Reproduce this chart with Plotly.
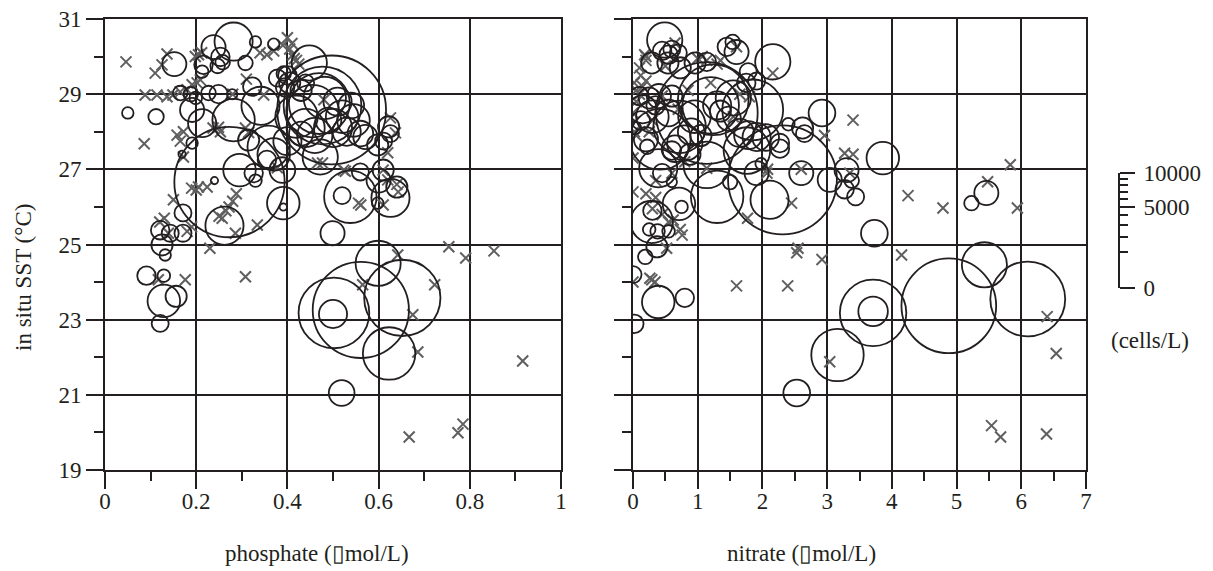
import math
import plotly.graph_objects as go

# circles: stations with cells present (phosphate panel)
phos_x = [0.050, 0.112, 0.152, 0.171, 0.121, 0.143, 0.125, 0.132, 0.171, 0.091,
          0.129, 0.129, 0.156, 0.121, 0.165, 0.188, 0.199, 0.191, 0.213, 0.191,
          0.169, 0.238, 0.282, 0.308, 0.330, 0.370, 0.216, 0.253, 0.258, 0.247,
          0.213, 0.227, 0.249, 0.279, 0.323, 0.282, 0.341, 0.315, 0.378, 0.392,
          0.273, 0.240, 0.262, 0.295, 0.326, 0.330, 0.359, 0.370, 0.355, 0.389,
          0.391, 0.391, 0.400, 0.497, 0.477, 0.470, 0.455, 0.482, 0.448, 0.400,
          0.420, 0.440, 0.460, 0.500, 0.520, 0.530, 0.545, 0.510, 0.490, 0.430,
          0.440, 0.472, 0.560, 0.571, 0.598, 0.611, 0.622, 0.626, 0.560, 0.610,
          0.600, 0.538, 0.520, 0.626, 0.640, 0.598, 0.499, 0.599, 0.502, 0.500,
          0.561, 0.652, 0.623, 0.519, 0.540, 0.430, 0.405, 0.395]
phos_sst = [28.50, 28.40, 29.80, 25.84, 25.38, 25.30, 24.99, 24.72, 25.30, 24.17,
            24.17, 23.50, 23.62, 22.90, 29.03, 29.00, 28.90, 28.58, 28.23, 27.70,
            27.40, 30.25, 30.40, 29.83, 30.39, 30.33, 29.78, 29.99, 29.85, 29.75,
            29.60, 29.03, 29.00, 29.00, 29.20, 28.31, 28.69, 27.78, 29.43, 29.55,
            26.66, 26.70, 25.50, 26.98, 26.90, 26.70, 27.60, 27.40, 27.25, 26.98,
            26.10, 26.00, 27.75, 28.58, 28.70, 28.75, 28.55, 28.90, 29.83, 29.50,
            28.40, 28.10, 27.90, 28.10, 28.40, 28.00, 28.30, 28.80, 28.30, 29.10,
            29.30, 27.33, 27.95, 27.86, 27.65, 27.75, 28.13, 27.95, 26.93, 26.98,
            26.70, 26.27, 26.30, 26.24, 26.53, 26.10, 25.30, 24.50, 23.18, 23.15,
            23.26, 23.58, 22.10, 21.05, 28.70, 27.95, 29.30, 29.18]
phos_cells = [50, 90, 220, 110, 130, 110, 170, 50, 110, 130,
              60, 400, 170, 110, 80, 80, 60, 220, 300, 50,
              20, 220, 550, 80, 50, 50, 130, 130, 80, 80,
              60, 80, 130, 40, 130, 680, 550, 170, 110, 80,
              4600, 20, 550, 400, 130, 60, 680, 400, 130, 250,
              400, 20, 300, 4480, 2290, 1400, 1040, 680, 470, 130,
              680, 550, 470, 550, 400, 300, 400, 300, 250, 170,
              110, 470, 250, 220, 170, 110, 170, 110, 110, 170,
              220, 1040, 110, 550, 170, 50, 220, 770, 1890, 300,
              3500, 2200, 1040, 250, 250, 220, 170, 130]

# crosses: stations with no cells (phosphate panel)
phos_zero_x = [0.046, 0.086, 0.110, 0.125, 0.136, 0.088, 0.114, 0.136, 0.149, 0.165,
               0.180, 0.191, 0.202, 0.209, 0.158, 0.172, 0.165, 0.172, 0.150, 0.130,
               0.120, 0.139, 0.190, 0.180, 0.176, 0.117, 0.308, 0.230, 0.205, 0.224,
               0.250, 0.257, 0.265, 0.272, 0.280, 0.288, 0.286, 0.334, 0.237, 0.249,
               0.280, 0.310, 0.198, 0.205, 0.212, 0.348, 0.308, 0.315, 0.340, 0.355,
               0.370, 0.390, 0.400, 0.405, 0.412, 0.420, 0.425, 0.410, 0.415, 0.480,
               0.626, 0.637, 0.620, 0.523, 0.527, 0.477, 0.610, 0.620, 0.556, 0.561,
               0.610, 0.640, 0.643, 0.754, 0.791, 0.853, 0.642, 0.565, 0.723, 0.675,
               0.686, 0.916, 0.667, 0.774, 0.785, 0.190, 0.200, 0.253, 0.378, 0.466]
phos_zero_sst = [29.86, 27.68, 29.56, 29.78, 30.07, 28.98, 28.98, 28.93, 28.98, 29.06,
                 29.12, 29.25, 29.30, 29.38, 27.91, 28.00, 27.75, 27.33, 26.19, 25.70,
                 25.60, 25.30, 25.47, 25.35, 24.06, 24.06, 24.14, 24.90, 26.53, 26.53,
                 25.75, 25.70, 25.90, 26.00, 26.15, 26.35, 25.30, 25.52, 28.10, 28.12,
                 29.00, 29.40, 30.00, 30.05, 30.10, 28.98, 28.10, 27.98, 30.10, 30.05,
                 30.15, 30.30, 30.50, 30.20, 30.05, 29.90, 29.80, 30.35, 29.95, 28.85,
                 28.37, 27.97, 27.44, 26.98, 26.95, 27.17, 26.98, 26.72, 26.10, 26.05,
                 26.05, 26.60, 26.40, 24.94, 24.64, 24.83, 24.72, 23.93, 23.93, 23.13,
                 22.14, 21.90, 19.88, 19.99, 20.22, 26.50, 26.45, 28.00, 27.04, 27.17]

# circles: stations with cells present (nitrate panel)
nit_x = [0.49, 0.45, 0.60, 0.55, 0.70, 0.29, 0.54, 0.73, 0.96, 1.14,
         1.45, 1.54, 1.60, 2.16, 1.78, 1.91, 1.75, 1.24, 1.20, 1.14,
         1.85, 0.72, 0.42, 0.80, 0.20, 0.22, 1.65, 1.78, 1.91, 1.76,
         2.27, 2.27, 2.62, 2.65, 2.92, 0.39, 0.45, 0.60, 1.14, 1.30,
         1.50, 1.98, 1.91, 2.31, 2.60, 2.11, 3.04, 3.30, 3.38, 3.27,
         3.44, 3.86, 3.73, 0.71, 0.75, 0.29, 0.30, 0.38, 0.25, 0.55,
         0.37, 0.19, 0.00, 0.39, 0.80, 0.02, 3.71, 3.71, 4.88, 5.43,
         6.10, 3.16, 2.53, 5.46, 5.23, 0.10, 0.25, 0.40, 0.35, 0.15,
         0.55, 0.12, 0.60, 0.30, 0.95, 0.90, 1.05, 0.65, 0.88, 0.60,
         1.30, 1.35, 1.55, 1.48, 0.03, 2.05, 2.40]
nit_sst = [30.44, 30.15, 30.20, 30.05, 30.10, 29.83, 29.83, 29.70, 29.83, 29.86,
           30.26, 30.39, 30.12, 29.86, 29.60, 29.35, 29.30, 28.85, 28.70, 28.50,
           28.58, 28.13, 27.80, 27.70, 27.80, 27.60, 27.97, 27.91, 27.86, 27.50,
           27.70, 27.55, 28.10, 27.95, 28.50, 27.03, 26.90, 26.66, 27.12, 26.27,
           26.66, 27.15, 26.90, 26.72, 26.90, 26.19, 26.72, 26.98, 26.70, 26.47,
           26.27, 27.30, 25.30, 26.08, 26.00, 25.60, 25.90, 25.35, 25.40, 25.35,
           24.94, 24.67, 24.20, 23.47, 23.58, 22.89, 23.18, 23.22, 23.37, 24.46,
           23.55, 22.06, 21.05, 26.37, 26.10, 28.95, 28.90, 28.95, 28.70, 28.60,
           28.50, 28.30, 28.95, 28.40, 28.40, 28.00, 27.90, 27.55, 27.40, 27.50,
           28.70, 28.55, 28.90, 28.35, 28.10, 27.85, 28.20]
nit_cells = [470, 130, 110, 130, 110, 170, 170, 170, 170, 130,
             130, 80, 220, 470, 110, 110, 130, 1890, 1210, 3920,
             1400, 1040, 1400, 470, 220, 80, 300, 300, 300, 820,
             130, 130, 170, 110, 270, 550, 130, 40, 820, 1040,
             80, 50, 220, 4480, 220, 550, 220, 220, 80, 130,
             110, 400, 270, 400, 60, 680, 130, 80, 60, 60,
             170, 80, 110, 400, 130, 130, 1670, 330, 3390, 770,
             2120, 1040, 270, 220, 80, 130, 170, 220, 130, 300,
             270, 130, 170, 400, 400, 270, 170, 270, 170, 130,
             300, 170, 470, 220, 60, 270, 60]

# crosses: stations with no cells (nitrate panel)
nit_zero_x = [0.00, 0.26, 0.34, 1.60, 2.39, 2.53, 2.92, 4.15, 3.04, 6.54,
              6.40, 5.54, 5.68, 6.39, 3.40, 3.27, 3.40, 4.25, 4.79, 5.48,
              5.83, 5.94, 2.96, 2.16, 1.80, 1.14, 2.07, 2.08, 2.45, 1.77,
              0.73, 0.76, 0.52, 0.29, 0.10, 0.20, 0.18, 0.65, 1.00, 1.07,
              1.14, 1.30, 1.35, 1.60, 0.02, 0.05, 0.10, 0.15, 0.20, 0.05,
              0.00, 0.02, 0.05, 0.00, 0.00, 0.20, 0.35, 0.30, 0.45, 0.55,
              0.62, 0.35, 0.60, 0.45, 0.30, 0.25, 1.65, 1.55, 2.55, 0.50,
              0.85, 1.20, 0.70, 0.80, 2.60, 3.35, 0.20, 0.12]
nit_zero_sst = [24.00, 24.10, 24.00, 23.90, 23.90, 24.78, 24.60, 24.72, 21.88, 22.10,
                23.08, 20.18, 19.88, 19.96, 28.31, 27.43, 27.40, 26.30, 25.97, 26.67,
                27.12, 25.97, 27.90, 29.56, 28.93, 27.03, 26.90, 27.00, 26.10, 25.70,
                25.40, 25.25, 24.90, 24.06, 29.70, 29.90, 30.05, 30.36, 29.95, 30.00,
                29.90, 29.80, 29.90, 30.26, 29.30, 29.10, 29.00, 29.20, 29.35, 28.80,
                28.50, 28.00, 27.90, 27.30, 26.40, 26.35, 26.25, 25.95, 25.80, 25.60,
                25.65, 26.70, 26.90, 28.95, 28.30, 28.00, 29.00, 28.40, 24.90, 29.75,
                29.10, 29.30, 28.60, 27.20, 27.00, 26.90, 30.00, 29.50]

# size legend (cells/L)
legend_major = [0, 5000, 10000]
legend_minor = [1000, 2000, 3000, 4000, 6000, 7000, 8000, 9000]

INK = "#231f20"
GREY = "#5f5f5f"
FONT = "Liberation Serif"
legend_px = 115  # circle diameter (px) of 10000 cells/L
sizeref = 10000 / legend_px ** 2

W, H = 1213, 571
OFF = 8  # page body margin


def fx(p):
    return (p - OFF) / W


def fy(p):
    return 1 - (p - OFF) / H


fig = go.Figure()

for xs, ys, zx, zy, ax in [(phos_x, phos_sst, phos_zero_x, phos_zero_sst, ("x", "y")),
                           (nit_x, nit_sst, nit_zero_x, nit_zero_sst, ("x2", "y2"))]:
    fig.add_trace(go.Scatter(x=zx, y=zy, mode="markers", xaxis=ax[0], yaxis=ax[1],
                             marker=dict(symbol="x-thin", size=11, color=GREY, opacity=1,
                                         line=dict(width=2, color=GREY)),
                             showlegend=False))
    cells = phos_cells if ax[0] == "x" else nit_cells
    fig.add_trace(go.Scatter(x=xs, y=ys, mode="markers", xaxis=ax[0], yaxis=ax[1],
                             marker=dict(symbol="circle-open", size=cells, sizemode="area",
                                         sizeref=sizeref, color=INK, opacity=1,
                                         line=dict(width=1.8, color=INK)),
                             showlegend=False))

fig.add_trace(go.Scatter(x=[None], y=[None], xaxis="x3", yaxis="y3", showlegend=False))

common = dict(showgrid=True, gridcolor=INK, gridwidth=2, showline=True, mirror=True,
              linecolor=INK, linewidth=2, zeroline=False, ticks="outside", ticklen=17,
              tickwidth=2, tickcolor=INK, automargin=False, ticklabeloverflow="allow",
              tickfont=dict(family=FONT, size=23, color=INK))
ydom = [fy(470), fy(19)]
title_font = dict(family=FONT, size=23, color=INK)

fig.update_layout(
    width=W, height=H, margin=dict(l=0, r=0, t=0, b=0, autoexpand=False),
    paper_bgcolor="white", plot_bgcolor="white",
    xaxis=dict(domain=[fx(105), fx(561)], range=[0, 1], tickvals=[0, 0.2, 0.4, 0.6, 0.8, 1],
               ticktext=["0", "0.2", "0.4", "0.6", "0.8", "1"], anchor="y",
               ticklabelstandoff=-8,
               minor=dict(tickvals=[0.1, 0.3, 0.5, 0.7, 0.9], ticklen=9, tickwidth=2,
                          tickcolor=INK, ticks="outside", showgrid=False), **common),
    yaxis=dict(domain=ydom, range=[19, 31], tickvals=[19, 21, 23, 25, 27, 29, 31], anchor="x",
               minor=dict(tickvals=[20, 22, 24, 26, 28, 30], ticklen=9, tickwidth=2,
                          tickcolor=INK, ticks="outside", showgrid=False), **common),
    xaxis2=dict(domain=[fx(633), fx(1086)], range=[0, 7], tickvals=list(range(8)), anchor="y2",
                ticklabelstandoff=-8,
                minor=dict(tickvals=[0.5, 1.5, 2.5, 3.5, 4.5, 5.5, 6.5], ticklen=9, tickwidth=2,
                           tickcolor=INK, ticks="outside", showgrid=False), **common),
    yaxis2=dict(domain=ydom, range=[19, 31], tickvals=[19, 21, 23, 25, 27, 29, 31], anchor="x2",
                showticklabels=False,
                minor=dict(tickvals=[20, 22, 24, 26, 28, 30], ticklen=9, tickwidth=2,
                           tickcolor=INK, ticks="outside", showgrid=False), **common),
    xaxis3=dict(domain=[fx(1100), fx(1118)], visible=False, anchor="y3", range=[0, 1],
                automargin=False),
    yaxis3=dict(domain=[fy(288), fy(173)], range=[0, 1], anchor="x3", side="right",
                showgrid=False, zeroline=False, showline=True, linecolor=INK, linewidth=2,
                ticks="outside", ticklen=15, tickwidth=2, tickcolor=INK, automargin=False,
                ticklabelstandoff=4, ticklabeloverflow="allow",
                tickvals=[math.sqrt(v / 10000) for v in legend_major],
                ticktext=[str(v) for v in legend_major],
                tickfont=dict(family=FONT, size=23, color=INK),
                minor=dict(tickvals=[math.sqrt(v / 10000) for v in legend_minor], ticklen=8,
                           tickwidth=1.5, tickcolor=INK, ticks="outside", showgrid=False)),
    annotations=[
        dict(text="in situ SST (°C)", x=fx(24), y=fy(278), textangle=-90),
        dict(text="phosphate (▯mol/L)", x=fx(317), y=fy(553)),
        dict(text="nitrate (▯mol/L)", x=fx(801), y=fy(553)),
        dict(text="(cells/L)", x=fx(1150), y=fy(340)),
    ],
)
fig.update_annotations(xref="paper", yref="paper", xanchor="center", yanchor="middle",
                       showarrow=False, font=title_font)

fig.write_html("out.html")
